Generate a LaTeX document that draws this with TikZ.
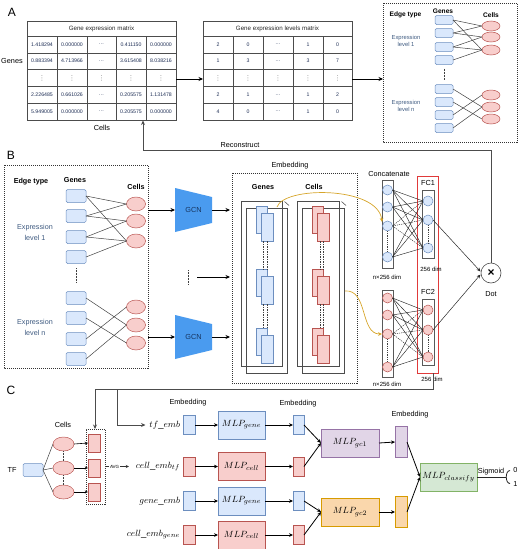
\documentclass[tikz,border=0pt]{standalone}
\usepackage{fontspec}
\setmainfont{Liberation Sans}
\newfontfamily\djv{DejaVu Sans}
\usetikzlibrary{shapes.geometric,arrows.meta,calc}
\definecolor{gfill}{HTML}{DAE8FC}
\definecolor{gdraw}{HTML}{6C8EBF}
\definecolor{cfill}{HTML}{F8CECC}
\definecolor{cdraw}{HTML}{B85450}
\definecolor{gcnblue}{HTML}{4A9BEF}
\definecolor{gcntxt}{HTML}{17345F}
\definecolor{exprc}{HTML}{3E5A80}
\definecolor{tabtxt}{HTML}{1E2E55}
\definecolor{goldc}{HTML}{D6A52A}
\definecolor{pfill}{HTML}{E1D5E7}
\definecolor{pdraw}{HTML}{9673A6}
\definecolor{ofill}{HTML}{FAD7AC}
\definecolor{odraw}{HTML}{D79B00}
\definecolor{vfill}{HTML}{D5E8D4}
\definecolor{vdraw}{HTML}{82B366}
\definecolor{fcred}{HTML}{E03A3A}
\tikzset{
  every node/.style={inner sep=0pt, outer sep=0pt},
  panel/.style={font=\fontsize{12}{12}\selectfont},
  tabline/.style={draw=black!70, line width=0.5pt},
  num/.style={font=\fontsize{5.2}{6}\selectfont, text=tabtxt},
  vdot/.style={font=\djv\fontsize{6.8}{7}\selectfont, text=black!45},
  hdr/.style={font=\fontsize{6.2}{7}\selectfont, text=black!85},
  fsev/.style={font=\fontsize{7.3}{9}\selectfont},
  fsix/.style={font=\fontsize{6}{7}\selectfont},
  bsev/.style={font=\bfseries\fontsize{7.2}{8}\selectfont},
  bsix/.style={font=\bfseries\fontsize{6.6}{8}\selectfont},
  exprA/.style={font=\fontsize{5.8}{7.6}\selectfont, text=exprc, align=center},
  exprB/.style={font=\fontsize{7.2}{11}\selectfont, text=exprc, align=center},
  gbox/.style={draw=gdraw, fill=gfill, rounded corners=1.4pt, line width=0.5pt},
  rbox/.style={draw=cdraw, fill=cfill, line width=0.5pt},
  cellshape/.style={ellipse, draw=cdraw, fill=cfill, line width=0.5pt},
  gA/.style={gbox, minimum width=18pt, minimum height=9pt},
  cA/.style={cellshape, minimum width=18pt, minimum height=10pt},
  gB/.style={gbox, minimum width=20pt, minimum height=13pt},
  cB/.style={cellshape, minimum width=19pt, minimum height=14pt},
  edge/.style={draw=black!75, line width=0.5pt},
  dotbox/.style={draw=black!80, line width=0.6pt, dash pattern=on 1pt off 1pt},
  arr/.style={-{Stealth[length=4.5pt,width=4pt]}, draw=black, line width=0.7pt},
  conn/.style={-{Stealth[length=4.5pt,width=4pt]}, draw=black!70, line width=0.8pt},
  outerr/.style={draw=black!70, line width=0.8pt},
  colr/.style={draw=black!65, fill=white, line width=0.6pt},
  gcirc/.style={circle, draw=gdraw, fill=gfill, minimum size=10pt, line width=0.5pt},
  ccirc/.style={circle, draw=cdraw, fill=cfill, minimum size=10pt, line width=0.5pt},
  goldarr/.style={-{Stealth[length=4pt,width=3.6pt]}, draw=goldc, line width=0.7pt},
  mathlbl/.style={font=\fontsize{9.5}{11}\selectfont, inner sep=2pt},
  mlpg/.style={gbox, rounded corners=0pt, minimum width=47pt, minimum height=28pt, font=\fontsize{9.5}{11}\selectfont},
  mlpc/.style={rbox, minimum width=47pt, minimum height=28pt, font=\fontsize{9.5}{11}\selectfont},
  sarr/.style={-{Stealth[length=4pt,width=3.6pt]}, draw=black, line width=0.8pt},
}
\begin{document}
\begin{tikzpicture}[x=1pt,y=-1pt]
\useasboundingbox (0,0) rectangle (520,549);

% ================= Panel A =================
\node[panel] (lA) at (12,12) {A};

% table 1
\draw[tabline] (27,21) rectangle (176,120);
\foreach \yy in {36,52.8,69.6,86.4,103.2} \draw[tabline] (27,\yy) -- (176,\yy);
\foreach \xx in {57,87,116,146} \draw[tabline] (\xx,36) -- (\xx,120);
\node[hdr] (t1h) at (101.5,28.5) {Gene expression matrix};
\foreach \xx/\tt [count=\c] in {42/1.418294,72/0.000000,101.5/\ldots,131/0.411150,161/0.000000}
  \node[num] (ta1\c) at (\xx,44.4) {\tt};
\foreach \xx/\tt [count=\c] in {42/0.883394,72/4.713966,101.5/\ldots,131/3.615408,161/8.038216}
  \node[num] (ta2\c) at (\xx,61.2) {\tt};
\foreach \xx [count=\c] in {42,72,101.5,131,161}
  \node[vdot] (ta3\c) at (\xx,78) {⋮};
\foreach \xx/\tt [count=\c] in {42/2.226485,72/0.661026,101.5/\ldots,131/0.205575,161/1.131478}
  \node[num] (ta4\c) at (\xx,94.8) {\tt};
\foreach \xx/\tt [count=\c] in {42/5.949005,72/0.000000,101.5/\ldots,131/0.205575,161/0.000000}
  \node[num] (ta5\c) at (\xx,111.6) {\tt};
\node[fsev] (genesA) at (12,61) {Genes};
\node[fsev] (cellsA) at (102,128) {Cells};

% table 2
\draw[tabline] (203,21) rectangle (352,120);
\foreach \yy in {36,52.8,69.6,86.4,103.2} \draw[tabline] (203,\yy) -- (352,\yy);
\foreach \xx in {233,263,293,323} \draw[tabline] (\xx,36) -- (\xx,120);
\node[hdr] (t2h) at (277.5,28.5) {Gene expression levels matrix};
\foreach \xx/\tt [count=\c] in {218/2,248/0,278/\ldots,308/1,337.5/0}
  \node[num] (tb1\c) at (\xx,44.4) {\tt};
\foreach \xx/\tt [count=\c] in {218/1,248/3,278/\ldots,308/3,337.5/7}
  \node[num] (tb2\c) at (\xx,61.2) {\tt};
\foreach \xx [count=\c] in {218,248,278,308,337.5}
  \node[vdot] (tb3\c) at (\xx,78) {⋮};
\foreach \xx/\tt [count=\c] in {218/2,248/1,278/\ldots,308/1,337.5/2}
  \node[num] (tb4\c) at (\xx,94.8) {\tt};
\foreach \xx/\tt [count=\c] in {218/4,248/0,278/\ldots,308/1,337.5/0}
  \node[num] (tb5\c) at (\xx,111.6) {\tt};

\coordinate (t1e) at (176,79);
\coordinate (t2w) at (203,79);
\coordinate (t2e) at (352,79);
\coordinate (boxAw) at (383,79);
\draw[arr] (t1e) -- (t2w);
\draw[arr] (t2e) -- (boxAw);

% dashed box A
\draw[dotbox] (383,3) rectangle (517,142);
\node[bsix] (etA) at (405.5,15) {Edge type};
\node[bsix] (gnA) at (443,11) {Genes};
\node[bsix] (clA) at (491,15) {Cells};
\node[exprA] (el1A) at (406,41) {Expression\\level 1};
\node[exprA] (elnA) at (406,106) {Expression\\level n};
\foreach \i/\yy in {1/20,2/33,3/47,4/60,5/89,6/102,7/115,8/128}
  \node[gA] (ag\i) at (444,\yy) {};
\foreach \i/\yy in {1/26,2/37,3/50,4/95,5/107,6/119}
  \node[cA] (ac\i) at (491,\yy) {};
\foreach \a/\b in {1/1,1/3,2/1,2/2,3/2,3/3,4/3,5/5,6/6,7/4,8/5}
  \draw[edge] (ag\a.east) -- (ac\b.west);
\draw[edge, dash pattern=on 0.6pt off 0.9pt] (ag4.south) ++(0,4) coordinate (adA) -- ++(0,11) coordinate (adB);

% ================= Panel B =================
\node[panel] (lB) at (11,155) {B};
\draw[dotbox] (4,165) rectangle (148,368);
\node[bsev] (etB) at (31,182) {Edge type};
\node[bsev] (gnB) at (75,180) {Genes};
\node[bsev] (clB) at (136,187) {Cells};
\node[exprB] (el1B) at (35,232) {Expression\\level 1};
\node[exprB] (elnB) at (35,327) {Expression\\level n};
\foreach \i/\yy in {1/196,2/216,3/237,4/257,5/298,6/318,7/339,8/359}
  \node[gB] (bg\i) at (76,\yy) {};
\foreach \i/\yy in {1/204,2/221,3/241,4/307,5/325,6/343}
  \node[cB] (bc\i) at (136,\yy) {};
\foreach \a/\b in {1/1,1/3,2/1,2/2,3/2,3/3,4/3,5/5,6/6,7/4,8/5}
  \draw[edge] (bg\a.east) -- (bc\b.west);
\draw[edge, dash pattern=on 0.6pt off 0.9pt] (76,268) coordinate (bdA) -- (76,282) coordinate (bdB);

% GCNs
\fill[gcnblue] (175,188) -- (212,197) -- (212,223) -- (175,232) -- cycle;
\node[fsev, text=gcntxt] (gcn1) at (193.5,210) {GCN};
\fill[gcnblue] (175,315) -- (212,324) -- (212,350) -- (175,359) -- cycle;
\node[fsev, text=gcntxt] (gcn2) at (193.5,337) {GCN};
\coordinate (bb1) at (148,210); \coordinate (g1w) at (175,210);
\coordinate (g1e) at (212,210); \coordinate (em1) at (230,210);
\coordinate (bb2) at (148,337); \coordinate (g2w) at (175,337);
\coordinate (g2e) at (212,337); \coordinate (em2) at (230,337);
\coordinate (mid1) at (197,277); \coordinate (mid2) at (230,277);
\draw[arr] (bb1) -- (g1w);
\draw[arr] (g1e) -- (em1);
\draw[arr] (bb2) -- (g2w);
\draw[arr] (g2e) -- (em2);
\draw[arr] (mid1) -- (mid2);
\draw[edge, dash pattern=on 0.6pt off 0.9pt] (188,270) coordinate (gdA) -- (188,284) coordinate (gdB);

% Embedding box
\draw[dotbox] (232,173) rectangle (357,383);
\node[fsev] (embl) at (290,166) {Embedding};
\node[bsev] (embg) at (263,187) {Genes};
\node[bsev] (embc) at (314,187) {Cells};
\draw[outerr] (241,201) rectangle (282,366);
\draw[outerr] (246,208) rectangle (287,373);
\draw[edge] (284.5,201.5) -- (289,205.5);
\draw[outerr] (297,201) rectangle (339,366);
\draw[outerr] (302,208) rectangle (344,373);
\draw[edge] (341.5,201.5) -- (346,205.5);
\foreach \k/\ya/\yb in {1/206/213,2/269/276,3/328/335}{
  \node[gbox, rounded corners=0pt, minimum width=11pt, minimum height=27pt, anchor=north] (ega\k) at (261.5,\ya) {};
  \node[gbox, rounded corners=0pt, minimum width=12pt, minimum height=28pt, anchor=north] (egb\k) at (267,\yb) {};
  \node[rbox, minimum width=11pt, minimum height=27pt, anchor=north] (eca\k) at (318,\ya) {};
  \node[rbox, minimum width=12pt, minimum height=28pt, anchor=north] (ecb\k) at (323.5,\yb) {};
}
\foreach \xx in {263.5,267}{
  \draw[edge, dash pattern=on 1.5pt off 1pt] (\xx,241) -- (\xx,269);
  \draw[edge, dash pattern=on 1.5pt off 1pt] (\xx,304) -- (\xx,328);
}
\foreach \xx in {320,323.5}{
  \draw[edge, dash pattern=on 1.5pt off 1pt] (\xx,241) -- (\xx,269);
  \draw[edge, dash pattern=on 1.5pt off 1pt] (\xx,304) -- (\xx,328);
}

% Concatenate columns
\node[fsev] (concl) at (389,174) {Concatenate};
\draw[colr] (382,180) rectangle (393,268);
\foreach \i/\yy in {1/190,2/207,3/226,4/257} \node[gcirc] (cu\i) at (387.5,\yy) {};
\draw[edge, dash pattern=on 1.2pt off 1pt] (cu3.south) -- (cu4.north);
\node[fsix] (nd1) at (387,277) {n×256 dim};
\draw[colr] (382,290) rectangle (393,377);
\foreach \i/\yy in {1/298,2/315,3/334,4/367} \node[ccirc] (cl\i) at (387.5,\yy) {};
\draw[edge, dash pattern=on 1.2pt off 1pt] (cl3.south) -- (cl4.north);
\node[fsix] (nd2) at (387,384) {n×256 dim};

% FC red box
\draw[draw=fcred, line width=1pt] (417,176) rectangle (438,373);
\node[fsev] (fc1l) at (428,183) {FC1};
\draw[colr] (422,190) rectangle (434,258);
\foreach \i/\yy in {1/201,2/220,3/248} \node[gcirc] (fa\i) at (428,\yy) {};
\draw[edge, dash pattern=on 1.2pt off 1pt] (fa2.south) -- (fa3.north);
\node[fsix] (fd1) at (431,269) {256 dim};
\node[fsev] (fc2l) at (428,292) {FC2};
\draw[colr] (422,299) rectangle (434,365);
\foreach \i/\yy in {1/310,2/330,3/357} \node[ccirc] (fb\i) at (428,\yy) {};
\draw[edge, dash pattern=on 1.2pt off 1pt] (fb2.south) -- (fb3.north);

% dense connections
\foreach \i in {1,2,4}{
  \foreach \j in {1,2,3}{
    \draw[edge, draw=black!85, line width=0.45pt] (cu\i.east) -- (fa\j.west);
    \draw[edge, draw=black!85, line width=0.45pt] (cl\i.east) -- (fb\j.west);
  }
}
\foreach \j in {1,2,3}{
  \draw[edge, draw=black!85, line width=0.45pt, dash pattern=on 1.2pt off 1pt] (cu3.east) -- (fa\j.west);
  \draw[edge, draw=black!85, line width=0.45pt, dash pattern=on 1.2pt off 1pt] (cl3.east) -- (fb\j.west);
}

% gold arrows
\coordinate (gs1) at (277,207);
\coordinate (gs2) at (345,291);
\draw[goldarr] (gs1) .. controls (284,186) and (378,186) .. (382,222);
\draw[goldarr] (gs2) .. controls (368,289) and (360,334) .. (382,334);

% Dot
\node[circle, draw=black!70, fill=white, minimum size=20pt, line width=0.6pt,
      font=\bfseries\fontsize{12}{12}\selectfont] (dot) at (491,273) {×};
\node[fsev] (dotl) at (491,294) {Dot};
\draw[edge, -{Stealth[length=4pt,width=3.4pt]}, draw=black!85] (fa2.east) -- ($(dot.west)+(-0.5,-1.5)$);
\draw[edge, -{Stealth[length=4pt,width=3.4pt]}, draw=black!85] (fb2.east) -- ($(dot.west)+(-0.5,1.5)$);

% Reconstruct
\coordinate (rc1) at (491,150);
\coordinate (rc2) at (143,150);
\coordinate (tab1b) at (143,120.5);
\draw[conn] (dot.north) -- (rc1) -- (rc2) -- (tab1b);
\node[fsev, anchor=south] (recl) at (240,148) {Reconstruct};

% line from FC2 to panel C
\coordinate (fc2b) at (433,373);
\coordinate (k1) at (433,389);
\coordinate (k2) at (95,389);
\coordinate (k3) at (95,429);
\coordinate (k4) at (117,389);
\coordinate (k5) at (117,425);
\draw[conn] (fc2b) -- (k1) -- (k2) -- (k3);
\node[fsix, fill=white, inner sep=0.5pt] (fd2) at (432,379) {256 dim};
\draw[draw=black!70, line width=0.8pt] (433,373) -- (433,389);

% ================= Panel C =================
\node[panel] (lC) at (11,390) {C};
\node[fsev] (cellsC) at (63,425) {Cells};
\node[gbox, minimum width=20pt, minimum height=13pt] (tf) at (33,470) {};
\node[fsev] (tfl) at (12,470) {TF};
\foreach \i/\yy in {1/444,2/468,3/492} \node[cellshape, minimum width=21pt, minimum height=14pt] (e\i) at (63.5,\yy) {};
\foreach \i in {1,2,3} \draw[edge] (tf.east) -- (e\i.west);
\draw[edge, dash pattern=on 0.6pt off 0.9pt] (e1.south) -- (e2.north);
\draw[edge, dash pattern=on 0.6pt off 0.9pt] (e2.south) -- (e3.north);
\foreach \i/\yy in {1/443,2/468,3/492} \node[rbox, minimum width=12pt, minimum height=18pt] (sr\i) at (94,\yy) {};
\foreach \i in {1,2,3} \draw[-{Stealth[length=3.2pt,width=3pt]}, draw=black, line width=0.6pt] (e\i.east) -- (sr\i.west);
\node[dotbox, minimum width=19pt, minimum height=75pt] (avgbox) at (95.5,466.5) {};

\node[mathlbl, anchor=east] (tfemb) at (182,425) {$tf\_emb$};
\node[mathlbl, anchor=east] (cembtf) at (182,466.5) {$cell\_emb_{tf}$};
\node[mathlbl, anchor=east] (gemb) at (182,501) {$gene\_emb$};
\node[mathlbl, anchor=east] (cembg) at (182,535) {$cell\_emb_{gene}$};
\draw[-{Stealth[length=3.2pt,width=3pt]}, draw=black!80, line width=0.5pt] (avgbox.east) -- ($(cembtf.west)+(-5,0)$)
  node[pos=0.4, fill=white, inner sep=0.6pt, font=\fontsize{4.5}{5}\selectfont] (avgl) {AVG};
\draw[conn] (k4) -- (k5) -- ($(tfemb.west)+(-2,0)$);

\node[fsev] (embC1) at (188,403) {Embedding};
\node[fsev] (embC2) at (298,404) {Embedding};
\node[fsev] (embC3) at (410,415) {Embedding};

\node[gbox, rounded corners=0pt, minimum width=12pt, minimum height=19pt] (q1) at (189,425) {};
\node[rbox, minimum width=12pt, minimum height=19pt] (q2) at (189,466.5) {};
\node[gbox, rounded corners=0pt, minimum width=12pt, minimum height=19pt] (q3) at (189,501) {};
\node[rbox, minimum width=12pt, minimum height=19pt] (q4) at (189,535) {};

\node[mlpg] (m1) at (241.5,425) {$MLP_{gene}$};
\node[mlpc] (m2) at (241.5,466.5) {$MLP_{cell}$};
\node[mlpg] (m3) at (241.5,501) {$MLP_{gene}$};
\node[mlpc] (m4) at (241.5,535) {$MLP_{cell}$};

\node[gbox, rounded corners=0pt, minimum width=11pt, minimum height=19pt] (s1) at (298.5,425) {};
\node[rbox, minimum width=11pt, minimum height=19pt] (s2) at (298.5,466.5) {};
\node[gbox, rounded corners=0pt, minimum width=11pt, minimum height=19pt] (s3) at (298.5,501) {};
\node[rbox, minimum width=11pt, minimum height=19pt] (s4) at (298.5,535) {};

\foreach \i in {1,2,3,4}{
  \draw[sarr] (q\i.east) -- (m\i.west);
  \draw[sarr] (m\i.east) -- (s\i.west);
}

\node[draw=pdraw, fill=pfill, line width=0.5pt, minimum width=58pt, minimum height=28pt, font=\fontsize{9.5}{11}\selectfont] (gc1) at (350,443) {$MLP_{gc1}$};
\node[draw=odraw, fill=ofill, line width=0.5pt, minimum width=58pt, minimum height=28pt, font=\fontsize{9.5}{11}\selectfont] (gc2) at (350,512) {$MLP_{gc2}$};
\draw[sarr] (s1.east) -- (gc1.west);
\draw[sarr] (s2.east) -- (gc1.west);
\draw[sarr] (s3.east) -- (gc2.west);
\draw[sarr] (s4.east) -- (gc2.west);

\node[draw=pdraw, fill=pfill, line width=0.5pt, minimum width=12pt, minimum height=31pt] (pv) at (401,442) {};
\node[draw=odraw, fill=ofill, line width=0.5pt, minimum width=12pt, minimum height=31pt] (ov) at (401,512) {};
\draw[sarr] (gc1.east) -- (pv.west);
\draw[sarr] (gc2.east) -- (ov.west);

\node[draw=vdraw, fill=vfill, line width=0.5pt, minimum width=57pt, minimum height=28pt, font=\fontsize{9.5}{11}\selectfont] (cls) at (448.5,477) {$MLP_{classify}$};
\draw[sarr] (pv.east) -- (cls.west);
\draw[sarr] (ov.east) -- (cls.west);

\coordinate (sg) at (506.3,477);
\draw[draw=black!85, line width=1pt] (cls.east) -- (sg);
\node[fsev, anchor=south] (sigl) at (491,475.5) {Sigmoid};
\draw[draw=black!85, line width=0.8pt] (510,470.5) .. controls (505,470.5) and (505,483.5) .. (510,483.5);
\node[fsev] (zero) at (515.5,469.5) {0};
\node[fsev] (one) at (515.5,483.5) {1};

\end{tikzpicture}
\end{document}
